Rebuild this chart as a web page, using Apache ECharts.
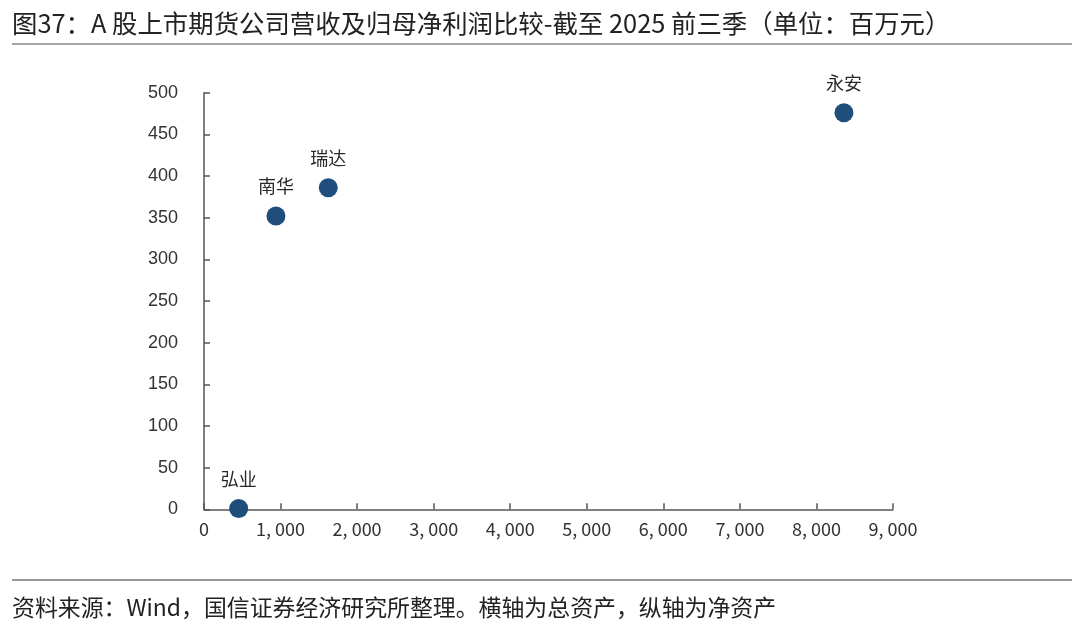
<!DOCTYPE html>
<html><head><meta charset="utf-8">
<script src="https://cdn.jsdelivr.net/npm/echarts@6/dist/echarts.min.js"></script>
<style>html,body{margin:0;padding:0;background:#fff}#c{width:1080px;height:623px}</style>
</head><body><div id="c"></div>
<script>
const names = ['弘业', '南华', '瑞达', '永安'];
const totalAssets = [453, 940, 1623, 8359];   // 横轴：总资产
const netAssets = [1, 352, 386, 476];          // 纵轴：净资产
const xTicks = [0, 1000, 2000, 3000, 4000, 5000, 6000, 7000, 8000, 9000];
const yTicks = [0, 50, 100, 150, 200, 250, 300, 350, 400, 450, 500];
const titleText = '图37：A 股上市期货公司营收及归母净利润比较-截至 2025 前三季（单位：百万元）';
const sourceText = '资料来源：Wind，国信证券经济研究所整理。横轴为总资产，纵轴为净资产';

const font = '"Noto Sans CJK SC", "DejaVu Sans", sans-serif';
const chart = echarts.init(document.getElementById('c'));
const fmt = v => { const s = String(v); return v >= 1000 ? s.slice(0, -3) + ', ' + s.slice(-3) : s; };
chart.setOption({
  animation: false,
  grid: { left: 204, right: 187, top: 92.7, bottom: 113.7 },
  xAxis: {
    type: 'value', min: xTicks[0], max: xTicks[xTicks.length - 1], interval: xTicks[1] - xTicks[0],
    splitLine: { show: false },
    axisLine: { show: true, lineStyle: { color: '#555', width: 1.5 } },
    axisTick: { show: true, inside: true, length: 6, lineStyle: { color: '#555', width: 1.5 } },
    axisLabel: { color: '#333', fontSize: 18, fontFamily: font, margin: 11, formatter: fmt }
  },
  yAxis: {
    type: 'value', min: yTicks[0], max: yTicks[yTicks.length - 1], interval: yTicks[1] - yTicks[0],
    splitLine: { show: false },
    axisLine: { show: true, lineStyle: { color: '#555', width: 1.5 } },
    axisTick: { show: true, inside: true, length: 6, lineStyle: { color: '#555', width: 1.5 } },
    axisLabel: { color: '#333', fontSize: 18, fontFamily: 'Liberation Sans, Arial, sans-serif', margin: 26 }
  },
  series: [{
    type: 'scatter',
    symbolSize: 19,
    itemStyle: { color: '#1f4e7d', opacity: 1 },
    data: names.map((n, i) => ({ name: n, value: [totalAssets[i], netAssets[i]] })),
    label: { show: true, position: 'top', distance: 11, formatter: p => p.name, color: '#2a2a2a', fontSize: 18, fontFamily: font }
  }],
  graphic: [
    { type: 'text', x: 12, y: 23, style: { text: titleText, font: '25.4px ' + font, fill: '#222', textVerticalAlign: 'middle' } },
    { type: 'line', shape: { x1: 12, y1: 44, x2: 1072, y2: 44 }, style: { stroke: '#888', lineWidth: 1.5 } },
    { type: 'line', shape: { x1: 12, y1: 580, x2: 1072, y2: 580 }, style: { stroke: '#333', lineWidth: 1.2 } },
    { type: 'text', x: 12, y: 607, style: { text: sourceText, font: '22.9px ' + font, fill: '#222', textVerticalAlign: 'middle' } }
  ]
});
</script></body></html>
